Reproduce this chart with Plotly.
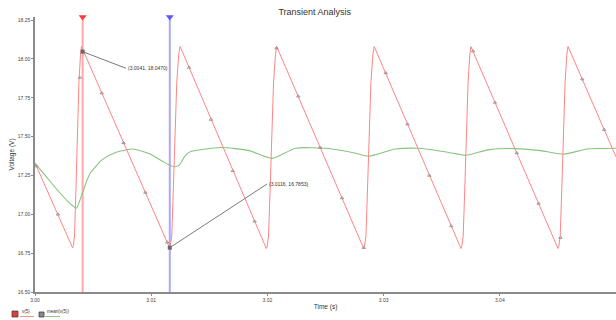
import plotly.graph_objects as go

# ---------------- data ----------------
red_t = [3.0000,
         3.00315, 3.00323, 3.00330, 3.00340, 3.00352, 3.00365, 3.00378, 3.00392, 3.00400,
         3.01149, 3.01157, 3.01165, 3.01177, 3.01190, 3.01205, 3.01220, 3.01237, 3.01249,
         3.01982, 3.01990, 3.01998, 3.02010, 3.02023, 3.02038, 3.02053, 3.02070, 3.02080,
         3.02820, 3.02828, 3.02836, 3.02848, 3.02861, 3.02876, 3.02891, 3.02908, 3.02919,
         3.03657, 3.03665, 3.03673, 3.03685, 3.03698, 3.03713, 3.03727, 3.03742, 3.03751,
         3.04492, 3.04500, 3.04508, 3.04520, 3.04533, 3.04548, 3.04562, 3.04577, 3.04587,
         3.05000]
red_v = [17.330,
         16.800, 16.785, 16.800, 16.860, 17.150, 17.500, 17.850, 18.030, 18.080,
         16.800, 16.785, 16.800, 16.860, 17.150, 17.500, 17.850, 18.030, 18.080,
         16.795, 16.780, 16.795, 16.860, 17.150, 17.500, 17.850, 18.030, 18.080,
         16.795, 16.780, 16.795, 16.860, 17.150, 17.500, 17.850, 18.030, 18.080,
         16.795, 16.780, 16.795, 16.860, 17.150, 17.500, 17.850, 18.030, 18.080,
         16.795, 16.780, 16.795, 16.860, 17.150, 17.500, 17.850, 18.030, 18.080,
         17.370]

mark_t = [3.0001, 3.00198, 3.00386, 3.00574, 3.00762, 3.0095, 3.01138, 3.01326, 3.01514,
          3.01702, 3.0189, 3.02078, 3.02266, 3.02454, 3.02642, 3.0283, 3.03018, 3.03206,
          3.03394, 3.03582, 3.0377, 3.03958, 3.04146, 3.04334, 3.04522, 3.0471, 3.04898]
mark_v = [17.31, 17.00, 17.88, 17.78, 17.46, 17.14, 16.82, 17.945, 17.61,
          17.28, 16.955, 18.07, 17.76, 17.43, 17.105, 16.785, 17.91, 17.58,
          17.25, 16.925, 18.05, 17.72, 17.395, 17.07, 16.85, 17.87, 17.545]

mean_t = [3.0000, 3.0010, 3.0020, 3.0030, 3.00357, 3.0040, 3.00471, 3.00585, 3.0070,
          3.0084, 3.00985, 3.0110, 3.0120, 3.01245, 3.01285, 3.01328, 3.0160, 3.01842,
          3.0204, 3.02242, 3.0250, 3.0275, 3.02876, 3.0310, 3.0330, 3.0355, 3.03708,
          3.0390, 3.0412, 3.0435, 3.0455, 3.0475, 3.0500]
mean_v = [17.330, 17.240, 17.150, 17.070, 17.040, 17.120, 17.260, 17.355, 17.400,
          17.420, 17.390, 17.340, 17.305, 17.320, 17.370, 17.400, 17.430, 17.410,
          17.360, 17.425, 17.425, 17.395, 17.374, 17.420, 17.425, 17.400, 17.380,
          17.415, 17.423, 17.410, 17.387, 17.420, 17.425]

cursor_t = [3.0041, 3.0116]
cursor_v = [18.0470, 16.7853]
cursor_colors = ["rgba(255,110,110,0.6)", "rgba(110,110,255,0.6)"]
cursor_tip_colors = ["#ff3a3a", "#5a5aff"]

x_ticks = [3.00, 3.01, 3.02, 3.03, 3.04, 3.05]
y_ticks = [16.50, 16.75, 17.00, 17.25, 17.50, 17.75, 18.00, 18.25]

FONT = "Liberation Sans, Arial, sans-serif"
Y_RANGE = [16.5, 18.27]

fig = go.Figure()

# cursors
for t, c, tc in zip(cursor_t, cursor_colors, cursor_tip_colors):
    fig.add_trace(go.Scatter(x=[t, t], y=Y_RANGE, mode="lines",
                             line=dict(color=c, width=2), showlegend=False,
                             hoverinfo="skip"))
    fig.add_trace(go.Scatter(x=[t], y=[Y_RANGE[1]], mode="markers", cliponaxis=False,
                             marker=dict(symbol="triangle-down", size=7, color=tc),
                             showlegend=False, hoverinfo="skip"))

# mean(v(5))
fig.add_trace(go.Scatter(x=mean_t, y=mean_v, mode="lines", name="mean(v(5))",
                         line=dict(color="#86c47e", width=1.1, shape="spline",
                                   smoothing=0.6), showlegend=False))
# v(5)
fig.add_trace(go.Scatter(x=red_t, y=red_v, mode="lines", name="v(5)",
                         line=dict(color="#ff8585", width=1), showlegend=False))
fig.add_trace(go.Scatter(x=mark_t, y=mark_v, mode="markers", showlegend=False,
                         marker=dict(symbol="triangle-up-open", size=3,
                                     color="#8a8a8a", line=dict(width=0.8))))
# cursor readout points
fig.add_trace(go.Scatter(x=cursor_t, y=cursor_v, mode="markers", showlegend=False,
                         marker=dict(symbol="square", size=4, color="#666666")))

# readout labels with leader lines
label_pos = [(3.00783, 17.94), (3.01997, 17.195)]
for t, v, (lx, ly) in zip(cursor_t, cursor_v, label_pos):
    fig.add_annotation(x=t, y=v, ax=lx, ay=ly, axref="x", ayref="y",
                       text=f"({t:.4f}, {v:.4f})", showarrow=True, arrowhead=0,
                       arrowwidth=1, arrowcolor="#7a7a7a", xanchor="left",
                       yanchor="middle", font=dict(size=5, color="#333", family=FONT),
                       standoff=0, startstandoff=0)

# custom legend (icon + label above line sample)
def px(xp):
    return (xp - 35) / 581.0

def py(yp):
    return (292 - yp) / 275.0

fig.add_shape(type="rect", xref="paper", yref="paper", x0=px(12), x1=px(18),
              y0=py(317), y1=py(311), fillcolor="#e03c3c", line=dict(color="#444", width=0.8))
fig.add_shape(type="line", xref="paper", yref="paper", x0=px(20), x1=px(34),
              y0=py(316.5), y1=py(316.5), line=dict(color="#ff9090", width=1))
fig.add_annotation(xref="paper", yref="paper", x=px(20), y=py(311), text="v(5)",
                   showarrow=False, xanchor="left", yanchor="middle",
                   font=dict(size=4.5, color="#333", family=FONT))
fig.add_shape(type="rect", xref="paper", yref="paper", x0=px(39), x1=px(44),
              y0=py(317), y1=py(312), fillcolor="#888888", line=dict(color="#444", width=0.8))
fig.add_shape(type="line", xref="paper", yref="paper", x0=px(45), x1=px(60),
              y0=py(316.5), y1=py(316.5), line=dict(color="#8cc884", width=1))
fig.add_annotation(xref="paper", yref="paper", x=px(45), y=py(311), text="mean(v(5))",
                   showarrow=False, xanchor="left", yanchor="middle",
                   font=dict(size=4.5, color="#333", family=FONT))

fig.update_layout(
    width=616, height=320,
    margin=dict(l=35, r=0, t=17, b=28, autoexpand=False),
    paper_bgcolor="white", plot_bgcolor="white",
    font=dict(family=FONT, color="#333"),
    title=dict(text="Transient Analysis", x=0.511, xref="container", xanchor="center",
               y=0.962, yref="container", yanchor="middle",
               font=dict(size=9, color="#333", family=FONT)),
    showlegend=False,
)
fig.update_xaxes(range=[3.0, 3.05], tickvals=x_ticks,
                 ticktext=[f"{v:.2f}" for v in x_ticks], automargin=False,
                 showgrid=False, zeroline=False, showline=True, linecolor="#8a8a8a",
                 linewidth=1.5, ticks="outside", ticklen=2, tickcolor="#8a8a8a",
                 tickfont=dict(size=5, color="#444", family=FONT),
                 title=dict(text="Time (s)", font=dict(size=6.5, color="#333", family=FONT),
                            standoff=3))
fig.update_yaxes(range=Y_RANGE, tickvals=y_ticks,
                 ticktext=[f"{v:.2f}" for v in y_ticks], automargin=False,
                 showgrid=False, zeroline=False, showline=True, linecolor="#8a8a8a",
                 linewidth=1.5, ticks="outside", ticklen=2, tickcolor="#8a8a8a",
                 tickfont=dict(size=5, color="#444", family=FONT),
                 title=dict(text="Voltage (V)", font=dict(size=6.5, color="#333", family=FONT),
                            standoff=2))

fig.write_html("out.html", config={"displayModeBar": False},
               post_script="document.body.style.margin='0';document.body.style.padding='0';")
